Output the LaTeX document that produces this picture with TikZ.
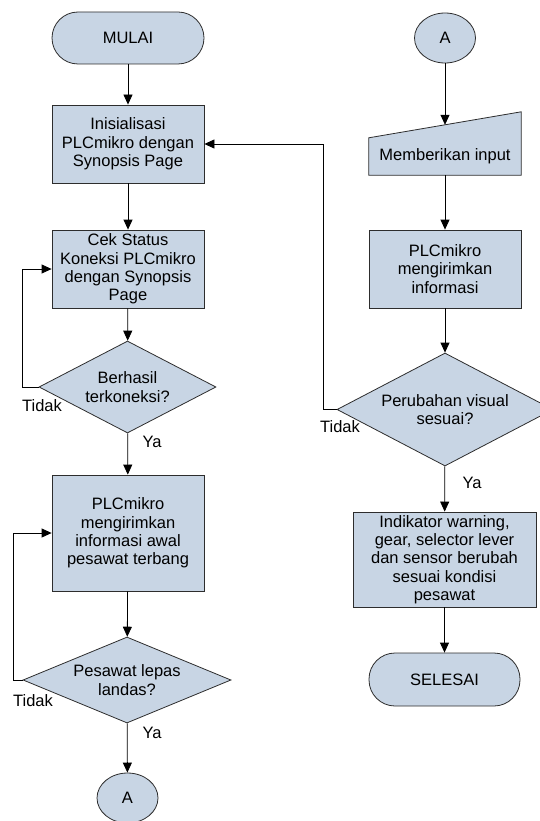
\documentclass[tikz,border=0pt]{standalone}
\usepackage{fontspec}
\setmainfont{Liberation Sans}
\usetikzlibrary{shapes.geometric,arrows.meta,calc,backgrounds}
\definecolor{boxfill}{RGB}{200,213,228}
\definecolor{boxline}{RGB}{45,45,45}
\begin{document}
\begin{tikzpicture}[x=1pt,y=-1pt,
  txt/.style={font=\fontsize{16.5}{18.3}\selectfont, align=center},
  base/.style={txt, draw=boxline, fill=boxfill, line width=0.8pt, inner sep=0pt},
  proc/.style={base, rectangle, minimum width=152pt, minimum height=78pt},
  term/.style={base, rectangle, rounded corners=26pt, minimum width=152pt, minimum height=52pt},
  conn/.style={base, ellipse, minimum width=61pt, minimum height=50pt},
  decision/.style={base, diamond},
  arr/.style={line width=0.8pt, -{Triangle[width=9pt,length=10pt]}},
  lbl/.style={txt, inner sep=0pt}]
\useasboundingbox (0,0) rectangle (539,821);

% left column
\node[term] (mulai) at (128,38) {MULAI};
\node[proc] (init) at (128,144) {Inisialisasi\\PLCmikro dengan\\Synopsis Page};
\node[proc] (cek) at (128,269) {Cek Status\\Koneksi PLCmikro\\dengan Synopsis\\Page};
\node[decision, aspect=1.92, minimum width=177pt, minimum height=92pt] (d1) at (127.5,387) {Berhasil\\terkoneksi?};
\node[proc, minimum height=116pt] (awal) at (128,533) {PLCmikro\\mengirimkan\\informasi awal\\pesawat terbang};
\node[decision, aspect=2.43, minimum width=208pt, minimum height=86pt] (d2) at (127,680) {Pesawat lepas\\landas?};
\node[conn] (a1) at (127.5,798) {A};

% right column
\node[conn] (a2) at (445,38) {A};
\node[txt, inner sep=0pt, minimum width=152pt, minimum height=37pt] (input) at (445,156.5) {Memberikan input};
\begin{scope}[on background layer]
\draw[draw=boxline, fill=boxfill, line width=0.8pt] (input.south west) -- (input.south east) -- ($(input.north east)+(0,-26)$) -- (input.north west) -- cycle;
\end{scope}
\coordinate (inputtop) at ($(input.north)+(0,-13)$);
\node[proc] (plc) at (445,269) {PLCmikro\\mengirimkan\\informasi};
\node[decision, aspect=1.91, minimum width=216pt, minimum height=113pt] (d3) at (445,409.5) {Perubahan visual\\sesuai?};
\node[proc, minimum width=183pt, minimum height=95pt] (ind) at (444.5,559.5) {Indikator warning,\\gear, selector lever\\dan sensor berubah\\sesuai kondisi\\pesawat};
\node[term, minimum width=151pt, minimum height=53pt] (selesai) at (444.5,679.5) {SELESAI};

% connectors left
\draw[arr] (mulai) -- (init);
\draw[arr] (init) -- (cek);
\draw[arr] (cek) -- (d1);
\draw[arr] (d1) -- (awal);
\draw[arr] (d1.west) -- ++(-16,0) |- (cek.west);
\draw[arr] (awal) -- (d2);
\draw[arr] (d2) -- (a1);
\draw[arr] (d2.west) -- ++(-9,0) |- (awal.west);

% connectors right
\draw[arr] (a2) -- (inputtop);
\draw[arr] (input) -- (plc);
\draw[arr] (plc) -- (d3);
\draw[arr] (d3) -- (ind);
\draw[arr] (ind) -- (selesai);
\draw[arr] (d3.west) -- ++(-13,0) |- (init.east);

% labels
\node[lbl] (ya1) at (152,442) {Ya};
\node[lbl] (tidak1) at (42,406) {Tidak};
\node[lbl] (ya2) at (152,733) {Ya};
\node[lbl] (tidak2) at (33,701) {Tidak};
\node[lbl] (ya3) at (472,483) {Ya};
\node[lbl] (tidak3) at (340,427) {Tidak};
\end{tikzpicture}
\end{document}
